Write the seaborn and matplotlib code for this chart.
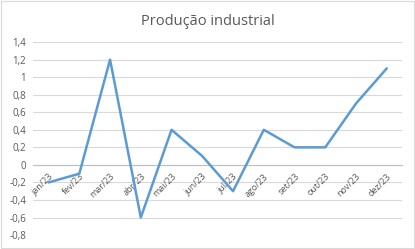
import matplotlib
matplotlib.use("Agg")
import matplotlib.pyplot as plt
import seaborn as sns
import pandas as pd
import numpy as np
from matplotlib.ticker import FixedLocator, FuncFormatter

months = ["jan/23", "fev/23", "mar/23", "abr/23", "mai/23", "jun/23",
          "jul/23", "ago/23", "set/23", "out/23", "nov/23", "dez/23"]
values = [-0.2, -0.1, 1.2, -0.6, 0.4, 0.1, -0.3, 0.4, 0.2, 0.2, 0.7, 1.1]
yticks = [-0.8, -0.6, -0.4, -0.2, 0, 0.2, 0.4, 0.6, 0.8, 1, 1.2, 1.4]

sns.set_style("white")
plt.rcParams['font.family'] = ['Open Sans', 'DejaVu Sans']

df = pd.DataFrame({"pos": np.arange(len(months)), "valor": values})

fig = plt.figure(figsize=(4.15, 2.49), dpi=100)
ax = fig.add_axes([0.08, 0.056, 0.889, 0.775])

for y in yticks:
    ax.axhline(y, color="#d9d9d9", lw=0.8, zorder=0)

sns.lineplot(data=df, x="pos", y="valor", ax=ax, color="#5B9BD5", lw=1.8, zorder=3)

ax.set_xlim(-0.5, len(months) - 0.5)
ax.set_ylim(-0.8, 1.4)
ax.set_yticks(yticks)
ax.yaxis.set_major_formatter(FuncFormatter(lambda v, p: (f"{v:g}").replace(".", ",")))
ax.tick_params(axis="y", length=0, labelsize=7, labelcolor="#595959", pad=5)

for s in ["top", "right", "left"]:
    ax.spines[s].set_visible(False)
ax.spines["bottom"].set_position(("data", 0))
ax.spines["bottom"].set_color("#bfbfbf")
ax.spines["bottom"].set_linewidth(0.8)

ax.set_xticks(df["pos"])
ax.set_xticklabels(months, rotation=45, ha="right", rotation_mode="anchor")
ax.xaxis.set_minor_locator(FixedLocator(np.arange(-0.5, len(months), 1.0)))
ax.tick_params(axis="x", which="major", length=0, labelsize=6.5, labelcolor="#595959", pad=5)
ax.tick_params(axis="x", which="minor", length=3.5, color="#bfbfbf", width=0.8, direction="in")
ax.set_xlabel("")
ax.set_ylabel("")

fig.text(0.5, 0.915, "Produção industrial", ha="center", va="center", fontsize=10.5, color="#595959")

fig.patches.append(plt.Rectangle((0.002, 0.004), 0.995, 0.99, transform=fig.transFigure,
                                 fill=False, edgecolor="#d9d9d9", lw=0.8))

fig.savefig("out.png", dpi=100)
